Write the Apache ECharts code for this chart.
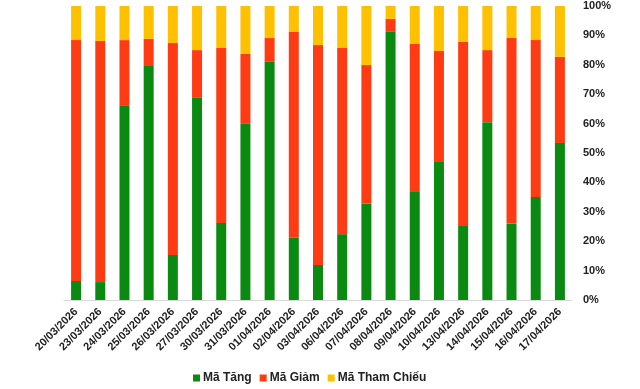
<!DOCTYPE html>
<html><head><meta charset="utf-8">
<script src="https://cdn.jsdelivr.net/npm/echarts@6/dist/echarts.min.js"></script>
<style>html,body{margin:0;padding:0;background:#fff}#c{width:640px;height:389px}</style>
</head><body><div id="c"></div>
<script>
const categories = ["20/03/2026","23/03/2026","24/03/2026","25/03/2026","26/03/2026","27/03/2026","30/03/2026","31/03/2026","01/04/2026","02/04/2026","03/04/2026","06/04/2026","07/04/2026","08/04/2026","09/04/2026","10/04/2026","13/04/2026","14/04/2026","15/04/2026","16/04/2026","17/04/2026"];
const tang = [6.5,6.1,66.0,79.6,15.3,69.0,26.2,59.9,81.0,21.2,11.9,22.4,32.8,91.2,36.7,46.9,25.2,60.5,25.9,35.0,53.4];
const giam = [81.9,82.0,22.4,9.2,72.1,16.0,59.5,23.8,8.1,70.0,74.8,63.3,47.1,4.4,50.4,37.8,62.6,24.5,63.2,53.4,29.3];
const thamChieu = [11.6,11.9,11.6,11.2,12.6,15.0,14.3,16.3,10.9,8.8,13.3,14.3,20.1,4.4,12.9,15.3,12.2,15.0,10.9,11.6,17.3];
const seriesNames = ["Mã Tăng","Mã Giảm","Mã Tham Chiếu"];
const colors = ["#0b8a12","#ff3b14","#ffc000"];
const font = "'Liberation Sans', Arial, sans-serif";
const chart = echarts.init(document.getElementById('c'));
const mk = (name, data, i) => ({
  name, type: 'bar', stack: 'total', data, barWidth: 10,
  itemStyle: {color: colors[i]}
});
chart.setOption({
  animation: false,
  textStyle: {fontFamily: font},
  grid: {left: 64, right: 68, top: 6, bottom: 89},
  legend: {
    bottom: 0, left: 188, itemWidth: 7, itemHeight: 7, itemGap: 8,
    icon: 'rect',
    textStyle: {fontFamily: font, fontSize: 12, fontWeight: 'bold', color: '#222', padding: [0,0,0,-2]},
    data: seriesNames
  },
  xAxis: {
    type: 'category', data: categories,
    axisLine: {lineStyle: {color: '#d9d9d9', width: 1}},
    axisTick: {show: false},
    axisLabel: {rotate: 45, interval: 0, fontFamily: font, fontSize: 11, fontWeight: 'bold', color: '#222', margin: 10}
  },
  yAxis: {
    type: 'value', position: 'right', min: 0, max: 100, interval: 10,
    axisLine: {show: false}, axisTick: {show: false}, splitLine: {show: false},
    axisLabel: {formatter: '{value}%', fontFamily: font, fontSize: 11, fontWeight: 'bold', color: '#222', margin: 11}
  },
  series: [mk(seriesNames[0], tang, 0), mk(seriesNames[1], giam, 1), mk(seriesNames[2], thamChieu, 2)]
});
</script></body></html>
